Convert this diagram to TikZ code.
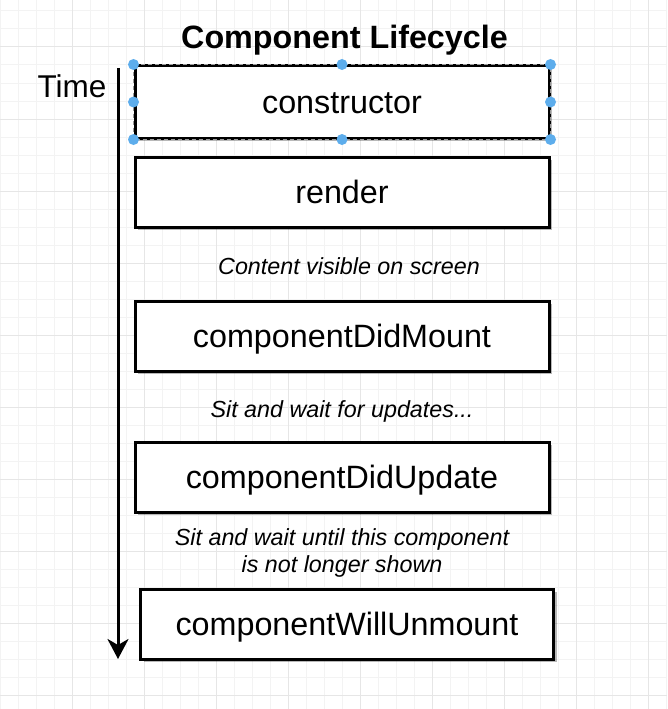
\documentclass[tikz,border=0pt]{standalone}
\usepackage{fontspec}
\setmainfont{Liberation Sans}
\usetikzlibrary{arrows.meta,shadows}
\definecolor{gridminor}{HTML}{F3F3F3}
\definecolor{gridmajor}{HTML}{E6E6E6}
\definecolor{handle}{RGB}{93,173,236}
\begin{document}
\begin{tikzpicture}[x=1pt,y=-1pt,
  stage/.style={draw=black, line width=3pt, fill=white,
    minimum width=414pt, minimum height=70pt, inner sep=0pt,
    text height=23pt, text depth=0pt,
    drop shadow={shadow xshift=3pt, shadow yshift=-3pt, opacity=0.28, fill=black},
    font=\fontsize{32.3}{38}\selectfont},
  note/.style={font=\fontsize{23.3}{27}\selectfont\itshape, align=center, inner sep=0pt},
  grab/.style={fill=handle, draw=none},
]
\useasboundingbox (0,0) rectangle (667,709);
\fill[white] (0,0) rectangle (667,709);

% background grid
\foreach \x in {0,18,...,666}
  \draw[gridminor, line width=1pt] (\x,0) -- (\x,709);
\foreach \y in {11,29,...,709}
  \draw[gridminor, line width=1pt] (0,\y) -- (667,\y);
\foreach \x in {72,144,...,666}
  \draw[gridmajor, line width=1pt] (\x,0) -- (\x,709);
\foreach \y in {47,119,...,709}
  \draw[gridmajor, line width=1pt] (0,\y) -- (667,\y);

% title and time axis
\node[font=\fontsize{32.3}{38}\selectfont\bfseries] (title) at (344.5,40) {Component Lifecycle};
\node[font=\fontsize{31.5}{36}\selectfont] (time) at (72,86) {Time};
\coordinate (tstart) at (118,68);
\coordinate (tend) at (118,659);
\draw[line width=3pt, -{Stealth[length=20pt,width=21pt,inset=6pt]}] (tstart) -- (tend);

% lifecycle stages
\node[stage, minimum height=72pt] (ctor) at (342,102) {constructor};
\node[stage] (render) at (342,192) {render};
\node[note] (visible) at (349,266) {Content visible on screen};
\node[stage] (mount) at (342,336) {componentDidMount};
\node[note] (waitupd) at (342,411) {Sit and wait for updates...};
\node[stage] (update) at (342,477) {componentDidUpdate};
\node[note] (waitend) at (342,553) {Sit and wait until this component\\is not longer shown};
\node[stage, minimum width=413pt] (unmount) at (347,624) {componentWillUnmount};

% selection frame on the constructor box
\draw[white!60!black, line width=1pt, dash pattern=on 4pt off 3pt] (ctor.north west) rectangle (ctor.south east);
\foreach \a in {north west,north,north east,east,south east,south,south west,west}
  \fill[grab] (ctor.\a) circle (5.5pt);
\end{tikzpicture}
\end{document}
